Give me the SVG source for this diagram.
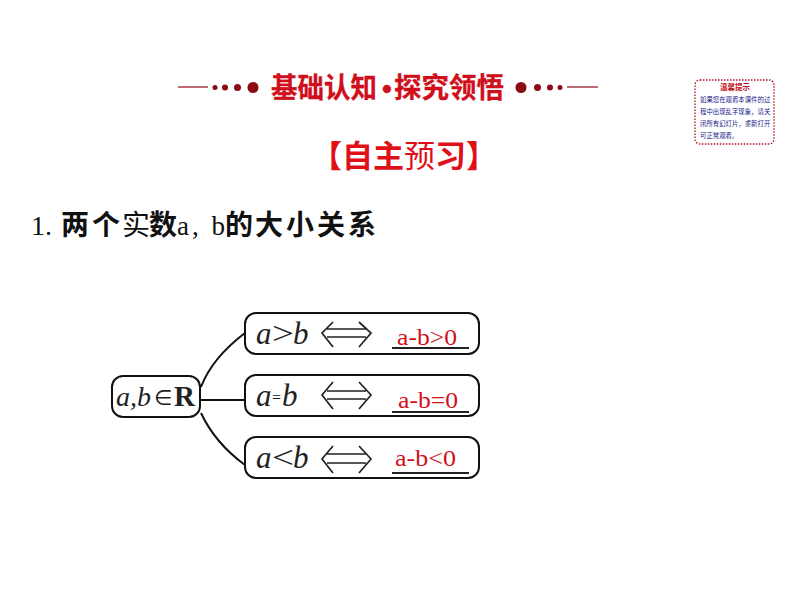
<svg xmlns="http://www.w3.org/2000/svg" width="794" height="596" viewBox="0 0 794 596">
<style>
.box{fill:#fff;stroke:#111;stroke-width:2}
.cn{font-family:"Noto Sans CJK SC","Liberation Sans",sans-serif}
.title{fill:#cf101c;font-weight:700;font-size:28px;stroke:#cf101c;stroke-width:.3}
.serif{font-family:"Liberation Serif",serif}
.math{font-family:"Liberation Serif",serif;font-style:italic;font-size:31px;fill:#222}
.op{font-family:"Liberation Serif",serif;font-size:31px;fill:#222}
.ans{font-family:"Liberation Serif",serif;font-size:23px;fill:#d0101c}
.ul{stroke:#222;stroke-width:2;fill:none}
.arr{stroke:#222;stroke-width:1.700;fill:none}
.dot{fill:#8b0a14}
.rule{stroke:#8b0a14;stroke-width:1.200}
.tip{font-family:"Noto Sans CJK SC",sans-serif;font-size:6.400px;fill:#20208a}
</style>
<rect width="794" height="596" fill="#fff"/>
<g id="heading-decor">
<line class="rule" x1="178" y1="87" x2="208" y2="87"/>
<circle class="dot" cx="215" cy="87.500" r="2.500"/><circle class="dot" cx="225" cy="87.500" r="3"/><circle class="dot" cx="237.500" cy="87.500" r="3.500"/><circle class="dot" cx="253" cy="87.500" r="5.500"/>
<circle class="dot" cx="521" cy="87.500" r="5.500"/><circle class="dot" cx="537.500" cy="87.500" r="3.500"/><circle class="dot" cx="550" cy="87.500" r="3"/><circle class="dot" cx="560" cy="87.500" r="2.500"/>
<line class="rule" x1="567" y1="87" x2="598" y2="87"/>
</g>
<g id="heading"><text class="cn title" y="98"><tspan x="271" textLength="106" lengthAdjust="spacingAndGlyphs">基础认知</tspan><tspan x="382" font-family="Liberation Sans">•</tspan><tspan x="394" textLength="110" lengthAdjust="spacingAndGlyphs">探究领悟</tspan></text></g>
<g id="subheading"><text class="cn" y="167" font-size="31" font-weight="700" fill="#e01018"><tspan x="311">【自主</tspan><tspan x="404" font-weight="400">预</tspan><tspan x="435" font-weight="700">习】</tspan></text></g>
<g id="tip">
<rect x="695" y="80" width="79" height="64" rx="5" fill="#fff" stroke="#b01020" stroke-width="1.300" stroke-dasharray="1.500 1.500"/>
<text class="cn" x="735" y="90" font-size="7.500" font-weight="700" fill="#c01020" text-anchor="middle">温馨提示</text>
<text class="tip" x="700" y="102">如果您在观看本课件的过</text>
<text class="tip" x="700" y="114">程中出现乱字现象，请关</text>
<text class="tip" x="700" y="126">闭所有幻灯片，重新打开</text>
<text class="tip" x="700" y="138">可正常观看。</text>
</g>
<g id="item"><text y="235" font-size="28" fill="#111"><tspan class="serif" x="31" textLength="21" lengthAdjust="spacingAndGlyphs">1.</tspan><tspan class="cn" font-weight="700" x="61">两</tspan><tspan class="cn" font-weight="700" x="92">个</tspan><tspan class="cn" font-weight="400" x="122">实</tspan><tspan class="cn" font-weight="700" x="149">数</tspan><tspan class="serif" x="177" font-size="27" textLength="48" lengthAdjust="spacing">a, b</tspan><tspan class="cn" font-weight="700" x="225">的</tspan><tspan class="cn" font-weight="700" x="255">大</tspan><tspan class="cn" font-weight="700" x="286">小</tspan><tspan class="cn" font-weight="700" x="317">关</tspan><tspan class="cn" font-weight="700" x="348">系</tspan></text></g>
<g id="connectors" fill="none" stroke="#111" stroke-width="2">
<path d="M201 387Q212 358 245 333"/>
<path d="M201 400H245"/>
<path d="M201 413Q215 443 245 465"/>
</g>
<g id="node-root"><rect class="box" x="112" y="376" width="88" height="41" rx="11"/><text class="math" x="116" y="406" style="font-size:28px">a,b</text><text x="154" y="405" font-family="DejaVu Sans,sans-serif" font-size="21" fill="#222">∈</text><text x="174" y="406" font-family="Liberation Serif,serif" font-size="29" font-weight="700" fill="#222">R</text></g>
<g id="node-gt"><rect class="box" x="245" y="313" width="234" height="41" rx="11"/><text class="math" x="256" y="344">a</text><text class="op" x="272" y="344" textLength="22" lengthAdjust="spacingAndGlyphs">&gt;</text><text class="math" x="293" y="344">b</text>
<path class="arr" d="M333 322L322 333L333 347M359 322L371 333L359 347M327 329H366M327 337H366"/><text class="ans" x="397" y="345" textLength="60" lengthAdjust="spacingAndGlyphs">a-b&gt;0</text><line class="ul" x1="392" y1="348" x2="469" y2="348"/></g>
<g id="node-eq"><rect class="box" x="245" y="375" width="234" height="41" rx="11"/><text class="math" x="256" y="406">a</text><text class="op" x="272" y="403" style="font-size:16px">=</text><text class="math" x="282" y="406">b</text>
<path class="arr" d="M333 382L322 395L333 409M359 382L371 395L359 409M327 391H366M327 399H366"/><text class="ans" x="398" y="408" textLength="60" lengthAdjust="spacingAndGlyphs">a-b=0</text><line class="ul" x1="392" y1="412" x2="469" y2="412"/></g>
<g id="node-lt"><rect class="box" x="245" y="437" width="234" height="41" rx="11"/><text class="math" x="256" y="468">a</text><text class="op" x="272" y="468" textLength="22" lengthAdjust="spacingAndGlyphs">&lt;</text><text class="math" x="293" y="468">b</text>
<path class="arr" d="M333 446L322 459L333 473M359 446L371 459L359 473M327 454H366M327 463H366"/><text class="ans" x="395" y="466" textLength="61" lengthAdjust="spacingAndGlyphs">a-b&lt;0</text><line class="ul" x1="392" y1="473" x2="469" y2="473"/></g>
</svg>
